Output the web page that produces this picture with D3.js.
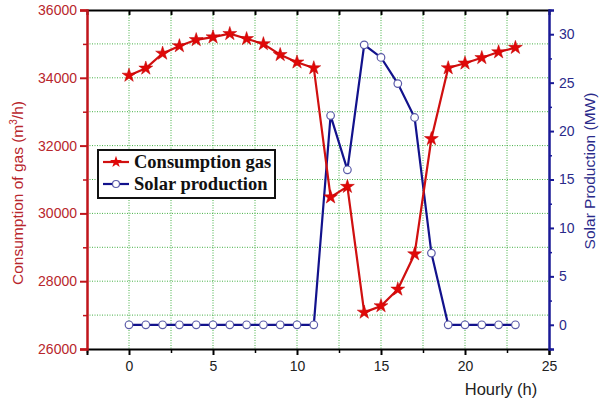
<!DOCTYPE html>
<html>
<head>
<meta charset="utf-8">
<script src="https://cdn.jsdelivr.net/npm/d3@7"></script>
<style>
html,body{margin:0;padding:0;background:#fff;}
svg{display:block;}
</style>
</head>
<body>
<svg id="chart" width="599" height="400"></svg>
<script>
const hours = [0,1,2,3,4,5,6,7,8,9,10,11,12,13,14,15,16,17,18,19,20,21,22,23];
const gasValues = [34070,34280,34720,34940,35120,35200,35300,35150,35000,34680,34460,34290,30480,30790,27080,27270,27760,28800,32200,34290,34430,34590,34760,34890];
const solarValues = [0,0,0,0,0,0,0,0,0,0,0,0,21.6,16.0,28.9,27.6,24.9,21.4,7.4,0,0,0,0,0];
const xTicks = [0,5,10,15,20,25];
const leftTicks = [26000,28000,30000,32000,34000,36000];
const rightTicks = [0,5,10,15,20,25,30];
const seriesNames = ["Consumption gas","Solar production"];
const titles = {left:"Consumption of gas (m", right:"Solar Production (MW)", bottom:"Hourly (h)"};

const svg = d3.select("#chart");
const L=87, R=549, T=10, B=349;
const x = d3.scaleLinear().domain([-2.5,25]).range([L,R]);
const yL = d3.scaleLinear().domain([26000,36000]).range([B,T]);
const yR = d3.scaleLinear().domain([-2.5,32.5]).range([B,T]);

const redAxis="#c0151b", redText="#b8262c", blueAxis="#1a1a96", blueText="#2a2a8a";
const gridColor="#45b045";

// grid
const g = svg.append("g");
const vGrid = d3.range(0,25,2.5);
g.selectAll("line.vg").data(vGrid).enter().append("line")
  .attr("x1",d=>x(d)).attr("x2",d=>x(d)).attr("y1",T).attr("y2",B)
  .attr("stroke",gridColor).attr("stroke-width",1).attr("stroke-dasharray","1,1.5");
const hGrid = d3.range(27000,36000,1000);
g.selectAll("line.hg").data(hGrid).enter().append("line")
  .attr("x1",L).attr("x2",R).attr("y1",d=>yL(d)).attr("y2",d=>yL(d))
  .attr("stroke",gridColor).attr("stroke-width",1).attr("stroke-dasharray","1,1.5");

// bottom axis
const xMinor = d3.range(-2.5,25.01,2.5).filter(v=>xTicks.indexOf(v)<0);
const bAx = svg.append("g").attr("transform",`translate(0,${B})`)
  .call(d3.axisBottom(x).tickValues(xTicks).tickSize(6).tickPadding(6).tickFormat(d3.format("d")));
bAx.select(".domain").attr("stroke","#000").attr("stroke-width",2);
bAx.selectAll(".tick line").attr("stroke","#000").attr("stroke-width",2);
bAx.selectAll("text").attr("font-family","Arial, 'Liberation Sans', sans-serif").attr("font-size",14).attr("fill","#222");
svg.append("g").attr("transform",`translate(0,${B})`)
  .call(d3.axisBottom(x).tickValues(xMinor).tickSize(4).tickFormat(""))
  .call(a=>a.select(".domain").remove())
  .selectAll("line").attr("stroke","#000").attr("stroke-width",1.5);

// top axis
const tAx = svg.append("g").attr("transform",`translate(0,${T})`)
  .call(d3.axisBottom(x).tickValues(d3.range(0,25,2.5)).tickSize(5).tickFormat(""));
tAx.select(".domain").attr("stroke","#000").attr("stroke-width",2);
tAx.selectAll(".tick line").attr("stroke","#000").attr("stroke-width",2);

// left axis
const lAx = svg.append("g").attr("transform",`translate(${L},0)`)
  .call(d3.axisLeft(yL).tickValues(leftTicks).tickSize(7).tickPadding(3).tickFormat(d3.format("d")));
lAx.select(".domain").attr("stroke",redAxis).attr("stroke-width",2.5);
lAx.selectAll(".tick line").attr("stroke",redAxis).attr("stroke-width",2);
lAx.selectAll("text").attr("font-family","Arial, 'Liberation Sans', sans-serif").attr("font-size",14).attr("fill",redText);
svg.append("g").attr("transform",`translate(${L},0)`)
  .call(d3.axisLeft(yL).tickValues(d3.range(27000,36000,2000)).tickSize(4).tickFormat(""))
  .call(a=>a.select(".domain").remove())
  .selectAll("line").attr("stroke",redAxis).attr("stroke-width",1.5);

// right axis
const rAx = svg.append("g").attr("transform",`translate(${R},0)`)
  .call(d3.axisRight(yR).tickValues(rightTicks).tickSize(5).tickPadding(5).tickFormat(d3.format("d")));
rAx.select(".domain").attr("stroke",blueAxis).attr("stroke-width",2.5);
rAx.selectAll(".tick line").attr("stroke",blueAxis).attr("stroke-width",2);
rAx.selectAll("text").attr("font-family","Arial, 'Liberation Sans', sans-serif").attr("font-size",14).attr("fill",blueText);
svg.append("g").attr("transform",`translate(${R},0)`)
  .call(d3.axisRight(yR).tickValues(d3.range(-2.5,32.6,5)).tickSize(3).tickFormat(""))
  .call(a=>a.select(".domain").remove())
  .selectAll("line").attr("stroke",blueAxis).attr("stroke-width",1.5);

// axis titles
const lt = svg.append("text").attr("transform","translate(23,193) rotate(-90)")
  .attr("text-anchor","middle").attr("font-family","Arial, 'Liberation Sans', sans-serif")
  .attr("font-size",15.5).attr("fill",redText);
lt.append("tspan").text(titles.left);
lt.append("tspan").attr("font-size",10).attr("dy",-6).text("3");
lt.append("tspan").attr("dy",6).text("/h)");
svg.append("text").attr("transform","translate(595,171) rotate(-90)")
  .attr("text-anchor","middle").attr("font-family","Arial, 'Liberation Sans', sans-serif")
  .attr("font-size",15.5).attr("fill",blueText).text(titles.right);
svg.append("text").attr("x",501).attr("y",395).attr("text-anchor","middle")
  .attr("font-family","Arial, 'Liberation Sans', sans-serif").attr("font-size",16.5).attr("fill","#222").text(titles.bottom);

// series
const solarColor="#12128c", gasColor="#d01010";
const solarData = hours.map((h,i)=>({h, v:solarValues[i]}));
const gasData = hours.map((h,i)=>({h, v:gasValues[i]}));

svg.append("path").datum(solarData)
  .attr("d", d3.line().x(d=>x(d.h)).y(d=>yR(d.v)))
  .attr("fill","none").attr("stroke",solarColor).attr("stroke-width",2.2);
svg.append("path").datum(gasData)
  .attr("d", d3.line().x(d=>x(d.h)).y(d=>yL(d.v)))
  .attr("fill","none").attr("stroke",gasColor).attr("stroke-width",2.2);

svg.selectAll("circle.s").data(solarData).enter().append("circle")
  .attr("cx",d=>x(d.h)).attr("cy",d=>yR(d.v)).attr("r",3.8)
  .attr("fill","#fff").attr("stroke","#5a5aa8").attr("stroke-width",1.2);
const star = d3.symbol().type(d3.symbolStar).size(60);
svg.selectAll("path.g").data(gasData).enter().append("path")
  .attr("d",star).attr("transform",d=>`translate(${x(d.h)},${yL(d.v)})`)
  .attr("fill","#e00808").attr("stroke","#c00000").attr("stroke-width",0.5);

// legend
const lg = svg.append("g");
lg.append("rect").attr("x",98).attr("y",150).attr("width",177).attr("height",48)
  .attr("fill","#fff").attr("stroke","#111").attr("stroke-width",2);
const rows=[{name:seriesNames[0], c:gasColor, y:162},{name:seriesNames[1], c:solarColor, y:184}];
rows.forEach((r,i)=>{
  lg.append("line").attr("x1",103).attr("x2",129).attr("y1",r.y).attr("y2",r.y)
    .attr("stroke",r.c).attr("stroke-width",2.2);
  if(i===0){
    lg.append("path").attr("d",d3.symbol().type(d3.symbolStar).size(45)())
      .attr("transform",`translate(116,${r.y})`).attr("fill","#e00808");
  } else {
    lg.append("circle").attr("cx",116).attr("cy",r.y).attr("r",3.5)
      .attr("fill","#fff").attr("stroke","#5a5aa8").attr("stroke-width",1.2);
  }
  lg.append("text").attr("x",134).attr("y",r.y+6).attr("font-family","'Liberation Serif','Times New Roman',serif")
    .attr("font-weight","bold").attr("font-size",18.5).attr("fill","#111").text(r.name);
});
</script>
</body>
</html>
